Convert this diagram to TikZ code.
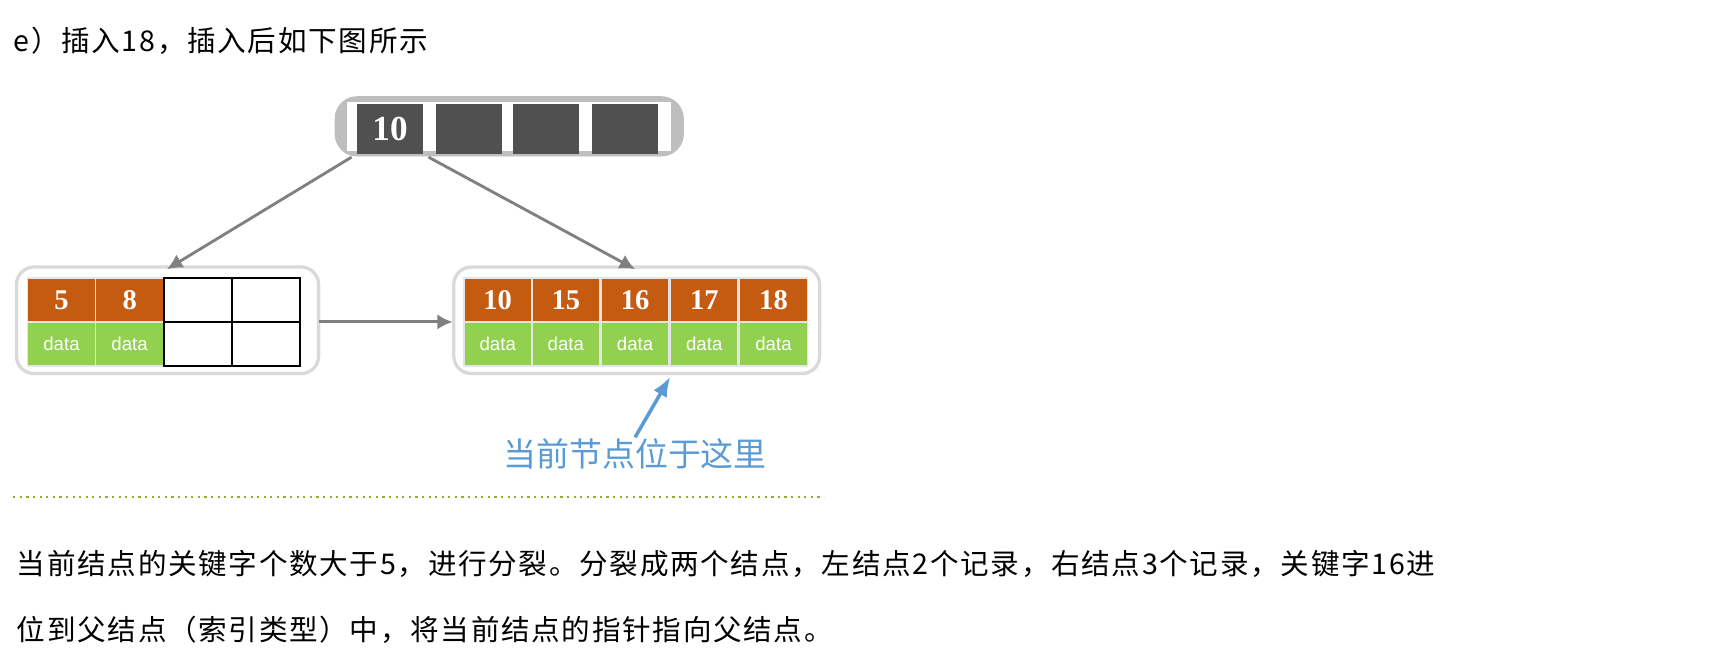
\documentclass[tikz,border=0pt]{standalone}
\usepackage{fontspec}
\setmainfont{Liberation Serif}
\newfontfamily\cjk[LetterSpace=6]{Noto Sans CJK SC}
\newfontfamily\cjkb{Noto Sans CJK SC}
\newfontfamily\dsans{Liberation Sans}
\usetikzlibrary{arrows.meta}
\definecolor{kor}{RGB}{197,90,17}
\definecolor{dgr}{RGB}{146,208,80}
\definecolor{dk}{RGB}{80,80,80}
\definecolor{frm}{RGB}{190,190,190}
\definecolor{blu}{RGB}{91,155,213}
\definecolor{olv}{RGB}{150,170,60}
\tikzset{
 keycell/.style={fill=kor,draw=white!80!gray,line width=0.8pt,minimum width=31pt,minimum height=20pt,inner sep=0pt,text=white,font=\bfseries\fontsize{13}{13}\selectfont},
 datacell/.style={fill=dgr,draw=white!80!gray,line width=0.8pt,minimum width=31pt,minimum height=20pt,inner sep=0pt,text=white,font=\dsans\fontsize{8.5}{8.5}\selectfont},
 emptycell/.style={fill=white,draw=black,line width=1pt,minimum width=31pt,minimum height=20pt,inner sep=0pt},
 topcell/.style={fill=dk,minimum width=30pt,minimum height=22.5pt,inner sep=0pt,text=white,font=\bfseries\fontsize{16}{16}\selectfont},
 outer/.style={draw=black!15,line width=1.5pt,rounded corners=8pt,fill=white},
 arr/.style={draw=black!50,line width=1.3pt,-{Latex[length=7pt,width=7pt]}},
 txt/.style={anchor=west,inner sep=0pt,font=\cjk\fontsize{13}{13}\selectfont}
}
\begin{document}
\begin{tikzpicture}[x=0.5pt,y=-0.5pt]
\useasboundingbox (0,0) rectangle (1560,605);
\node[txt] (hdr) at (12,37) {e）插入18，插入后如下图所示};
% top node
\draw[fill=frm,draw=frm,rounded corners=10pt] (305,88) rectangle (622,142);
\fill[white] (316,93) rectangle (611,137);
\foreach \i/\x/\t in {1/355/10,2/427/,3/497/,4/569/}{\node[topcell] (t\i) at (\x,117.5) {\t};}
% left leaf
\draw[outer] (15,243) rectangle (290,340);
\foreach \i/\x/\t in {1/56/5,2/118/8}{
 \node[keycell] (lk\i) at (\x,273) {\t};
 \node[datacell] (ld\i) at (\x,313) {data};}
\foreach \i/\x in {3/180,4/242}{
 \node[emptycell] (lk\i) at (\x,273) {};
 \node[emptycell] (ld\i) at (\x,313) {};}
\coordinate (lmid) at (290,293);
% right leaf
\draw[outer] (413,243) rectangle (746,340);
\foreach \i/\x/\t in {1/453/10,2/515/15,3/578/16,4/641/17,5/704/18}{
 \node[keycell] (rk\i) at (\x,273) {\t};
 \node[datacell] (rd\i) at (\x,313) {data};}
\coordinate (rmid) at (412,293);
\coordinate (la) at (152,245);
\coordinate (ra) at (578,245);
\coordinate (t1a) at (320,143);
\coordinate (t1b) at (390,143);
\draw[arr] (t1a) -- (la);
\draw[arr] (t1b) -- (ra);
\draw[arr] (lmid) -- (rmid);
\node[font=\cjkb\fontsize{15}{15}\selectfont,text=blu] (cur) at (578,413) {当前节点位于这里};
\coordinate (bs) at (578,398);
\coordinate (be) at (610,343);
\draw[blu,line width=1.6pt,-{Latex[length=9pt,width=7pt]}] (bs) -- (be);
\coordinate (d1) at (12,452); \coordinate (d2) at (750,452);
\draw[olv,line width=1pt,dotted] (d1) -- (d2);
\node[txt] (p1) at (15,513) {当前结点的关键字个数大于5，进行分裂。分裂成两个结点，左结点2个记录，右结点3个记录，关键字16进};
\node[txt] (p2) at (15,573) {位到父结点（索引类型）中，将当前结点的指针指向父结点。};
\end{tikzpicture}
\end{document}
